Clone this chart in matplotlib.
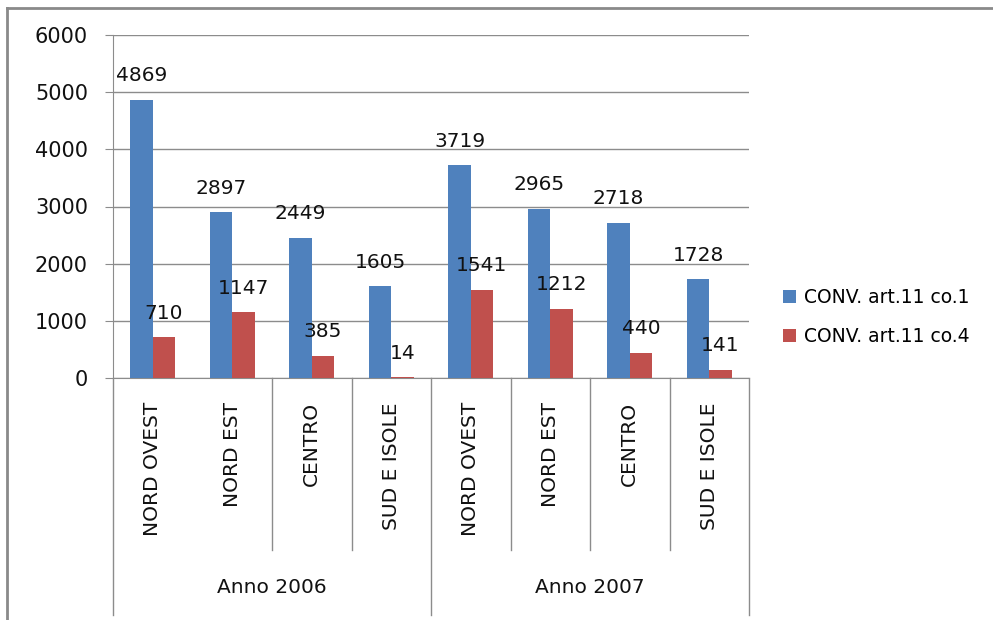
import matplotlib.pyplot as plt
from matplotlib.lines import Line2D
import numpy as np

plt.rcParams["font.family"] = "DejaVu Sans"

# data
years = ["Anno 2006", "Anno 2007"]
regions = ["NORD OVEST", "NORD EST", "CENTRO", "SUD E ISOLE"]
co1 = [4869, 2897, 2449, 1605, 3719, 2965, 2718, 1728]
co4 = [710, 1147, 385, 14, 1541, 1212, 440, 141]
series_labels = ["CONV. art.11 co.1", "CONV. art.11 co.4"]

BLUE = "#4F81BD"
RED = "#C0504D"
GRID = "#8C8C8C"

fig = plt.figure(figsize=(9.93, 6.2), dpi=100)
ax = fig.add_axes([113 / 993, 1 - 378 / 620, (749 - 113) / 993, (378 - 35) / 620])

n = len(co1)
x = np.arange(n)
w = 0.283

b1 = ax.bar(x - w / 2, co1, w, color=BLUE, label=series_labels[0], zorder=3)
b2 = ax.bar(x + w / 2, co4, w, color=RED, label=series_labels[1], zorder=3)

# value labels above bars
for bars, vals in ((b1, co1), (b2, co4)):
    for rect, v in zip(bars, vals):
        ax.annotate(str(v), (rect.get_x() + rect.get_width() / 2, v),
                    xytext=(0, 10.5), textcoords="offset points",
                    ha="center", va="bottom", fontsize=14.5, color="#111111",
                    zorder=5)

ax.set_xlim(-0.5, n - 0.5)
ax.set_ylim(0, 6000)
ax.set_yticks(range(0, 6001, 1000))
ax.tick_params(axis="y", labelsize=15, length=6, color=GRID, pad=12,
               labelcolor="#111111")
ax.set_xticks([])
ax.yaxis.grid(True, color=GRID, linewidth=1)
ax.set_axisbelow(True)

for s in ("top", "right"):
    ax.spines[s].set_visible(False)
ax.spines["left"].set_color(GRID)
ax.spines["bottom"].set_color(GRID)

# multi-level category axis
trans = ax.get_xaxis_transform()
for i in range(n):
    ax.text(i, -0.07, regions[i % 4], transform=trans, rotation=90,
            ha="center", va="top", fontsize=14.5, color="#111111")
for g, name in enumerate(years):
    ax.text(g * 4 + 1.5, -0.61, name, transform=trans,
            ha="center", va="center", fontsize=14.5, color="#111111")

short_seps = [1.5, 2.5, 4.5, 5.5, 6.5]
long_seps = [-0.5, 3.5, 7.5]
for s in short_seps:
    ax.add_line(Line2D([s, s], [0, -0.50], transform=trans, color=GRID,
                       linewidth=1, clip_on=False))
for s in long_seps:
    ax.add_line(Line2D([s, s], [0, -0.69], transform=trans, color=GRID,
                       linewidth=1, clip_on=False))

ax.legend(loc="center left", bbox_to_anchor=(783 / 993, 1 - 317 / 620),
          bbox_transform=fig.transFigure, frameon=False, fontsize=13.5,
          handlelength=0.7, handleheight=0.7, handletextpad=0.4,
          labelspacing=1.1, borderaxespad=0, borderpad=0)

# outer chart frame
fig.add_artist(Line2D([7 / 993, 1], [1 - 8 / 620, 1 - 8 / 620],
                      transform=fig.transFigure, color="#8A8A8A", linewidth=2))
fig.add_artist(Line2D([7 / 993, 7 / 993], [0, 1 - 8 / 620],
                      transform=fig.transFigure, color="#8A8A8A", linewidth=2))

fig.savefig("out.png", dpi=100)
